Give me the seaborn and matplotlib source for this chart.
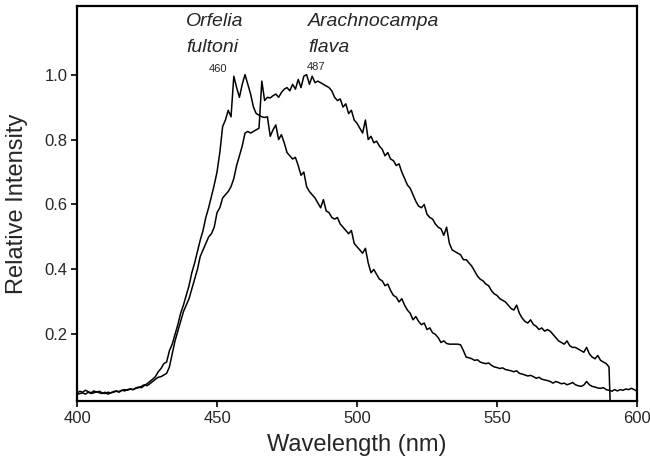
import numpy as np
import pandas as pd
import matplotlib
matplotlib.use("Agg")
import matplotlib.pyplot as plt
import seaborn as sns

# Wavelength grids (nm)
wl_orfelia = list(range(400, 601))
wl_arachno = list(range(400, 591)) + [590.4]

# Orfelia fultoni relative intensity (1 nm steps, 400..600)
orfelia = [
    0.020, 0.025, 0.022, 0.028, 0.024, 0.020, 0.026, 0.022, 0.025, 0.020,
    0.018, 0.022, 0.020, 0.024, 0.026, 0.022, 0.028, 0.030, 0.028, 0.032,
    0.030, 0.035, 0.038, 0.036, 0.042, 0.048, 0.055, 0.062, 0.070, 0.085,
    0.095, 0.110, 0.115, 0.150, 0.170, 0.200, 0.230, 0.265, 0.290, 0.320,
    0.350, 0.390, 0.420, 0.455, 0.490, 0.520, 0.560, 0.590, 0.625, 0.660,
    0.700, 0.760, 0.840, 0.860, 0.890, 0.870, 0.995, 0.960, 0.930, 0.970,
    1.000, 0.970, 0.940, 0.900, 0.880, 0.875, 0.870, 0.868, 0.870, 0.810,
    0.830, 0.845, 0.800, 0.815, 0.790, 0.760, 0.750, 0.740, 0.745, 0.720,
    0.690, 0.700, 0.655, 0.640, 0.630, 0.620, 0.605, 0.590, 0.615, 0.580,
    0.575, 0.560, 0.555, 0.560, 0.540, 0.530, 0.520, 0.510, 0.520, 0.480,
    0.470, 0.460, 0.450, 0.465, 0.420, 0.390, 0.400, 0.385, 0.370, 0.365,
    0.350, 0.355, 0.335, 0.320, 0.315, 0.300, 0.310, 0.290, 0.275, 0.265,
    0.245, 0.255, 0.240, 0.230, 0.235, 0.215, 0.220, 0.205, 0.200, 0.190,
    0.175, 0.180, 0.172, 0.170, 0.170, 0.170, 0.170, 0.168, 0.150, 0.130,
    0.128, 0.125, 0.120, 0.122, 0.115, 0.112, 0.110, 0.112, 0.105, 0.100,
    0.098, 0.095, 0.097, 0.092, 0.090, 0.088, 0.085, 0.088, 0.080, 0.078,
    0.075, 0.072, 0.074, 0.070, 0.065, 0.068, 0.062, 0.060, 0.058, 0.055,
    0.050, 0.055, 0.052, 0.048, 0.050, 0.045, 0.048, 0.052, 0.045, 0.042,
    0.040, 0.044, 0.055, 0.045, 0.040, 0.038, 0.035, 0.034, 0.036, 0.030,
    0.028, 0.025, 0.030, 0.026, 0.030, 0.028, 0.032, 0.030, 0.034, 0.030,
    0.025,
]

# Arachnocampa flava relative intensity (1 nm steps, 400..590, then drop)
arachno = [
    0.015, 0.018, 0.020, 0.016, 0.022, 0.018, 0.020, 0.024, 0.020, 0.018,
    0.022, 0.016, 0.020, 0.022, 0.025, 0.024, 0.028, 0.026, 0.030, 0.032,
    0.030, 0.034, 0.036, 0.040, 0.045, 0.042, 0.048, 0.055, 0.062, 0.068,
    0.070, 0.075, 0.080, 0.100, 0.140, 0.180, 0.210, 0.240, 0.270, 0.290,
    0.310, 0.340, 0.370, 0.400, 0.440, 0.460, 0.480, 0.500, 0.510, 0.530,
    0.575, 0.590, 0.620, 0.630, 0.640, 0.655, 0.680, 0.720, 0.750, 0.780,
    0.820, 0.825, 0.820, 0.825, 0.830, 0.835, 0.980, 0.920, 0.930, 0.928,
    0.935, 0.940, 0.930, 0.945, 0.955, 0.960, 0.950, 0.970, 0.955, 0.985,
    0.960, 0.995, 1.000, 0.970, 0.995, 0.975, 0.980, 0.975, 0.970, 0.965,
    0.960, 0.950, 0.930, 0.920, 0.925, 0.900, 0.910, 0.880, 0.890, 0.860,
    0.850, 0.835, 0.820, 0.860, 0.800, 0.810, 0.790, 0.795, 0.780, 0.770,
    0.750, 0.760, 0.740, 0.735, 0.720, 0.725, 0.700, 0.680, 0.660, 0.650,
    0.630, 0.610, 0.595, 0.590, 0.600, 0.570, 0.560, 0.555, 0.540, 0.530,
    0.525, 0.505, 0.530, 0.480, 0.460, 0.455, 0.450, 0.445, 0.430, 0.430,
    0.420, 0.410, 0.395, 0.380, 0.370, 0.365, 0.355, 0.350, 0.335, 0.325,
    0.320, 0.310, 0.305, 0.300, 0.290, 0.280, 0.275, 0.290, 0.265, 0.250,
    0.240, 0.235, 0.245, 0.230, 0.225, 0.215, 0.220, 0.210, 0.215, 0.210,
    0.200, 0.190, 0.180, 0.175, 0.170, 0.180, 0.165, 0.160, 0.160, 0.155,
    0.150, 0.145, 0.160, 0.140, 0.130, 0.125, 0.135, 0.120, 0.115, 0.110,
    0.100, -0.005,
]

xticks = [400, 450, 500, 550, 600]
yticks = [0.2, 0.4, 0.6, 0.8, 1.0]
ytick_labels = ["0.2", "0.4", "0.6", "0.8", "1.0"]

sns.set_style("ticks")
plt.rcParams["font.family"] = ["Liberation Sans", "DejaVu Sans"]

df = pd.concat([
    pd.DataFrame({"wl": wl_orfelia, "I": orfelia, "sp": "Orfelia fultoni"}),
    pd.DataFrame({"wl": wl_arachno, "I": arachno, "sp": "Arachnocampa flava"}),
], ignore_index=True)

fig = plt.figure(figsize=(6.5, 4.66), dpi=100)
ax = fig.add_axes([0.1185, 0.1395, 0.8615, 0.8475])

sns.lineplot(data=df, x="wl", y="I", units="sp", estimator=None, sort=False,
             color="black", linewidth=1.1, ax=ax, legend=False)

ax.set_xlim(400, 600)
ax.set_ylim(-0.005, 1.211)
ax.set_xticks(xticks)
ax.set_xticklabels([str(t) for t in xticks], fontsize=12)
ax.set_yticks(yticks)
ax.set_yticklabels(ytick_labels, fontsize=12)
ax.tick_params(direction="out", length=4, width=1.2, color="black", pad=3)
for s in ax.spines.values():
    s.set_visible(True)
    s.set_color("black")
    s.set_linewidth(1.6)

ax.set_xlabel("Wavelength (nm)", fontsize=17, labelpad=6)
ax.set_ylabel("Relative Intensity", fontsize=17, labelpad=12)

ax.text(438.9, 1.162, "Orfelia", fontsize=14, style="italic", ha="left", va="center")
ax.text(438.9, 1.082, "fultoni", fontsize=14, style="italic", ha="left", va="center")
ax.text(482.5, 1.162, "Arachnocampa", fontsize=14, style="italic", ha="left", va="center")
ax.text(482.5, 1.082, "flava", fontsize=14, style="italic", ha="left", va="center")
ax.text(450.4, 1.017, "460", fontsize=8, ha="center", va="center")
ax.text(485.4, 1.024, "487", fontsize=8, ha="center", va="center")

fig.savefig("out.png", dpi=100)
